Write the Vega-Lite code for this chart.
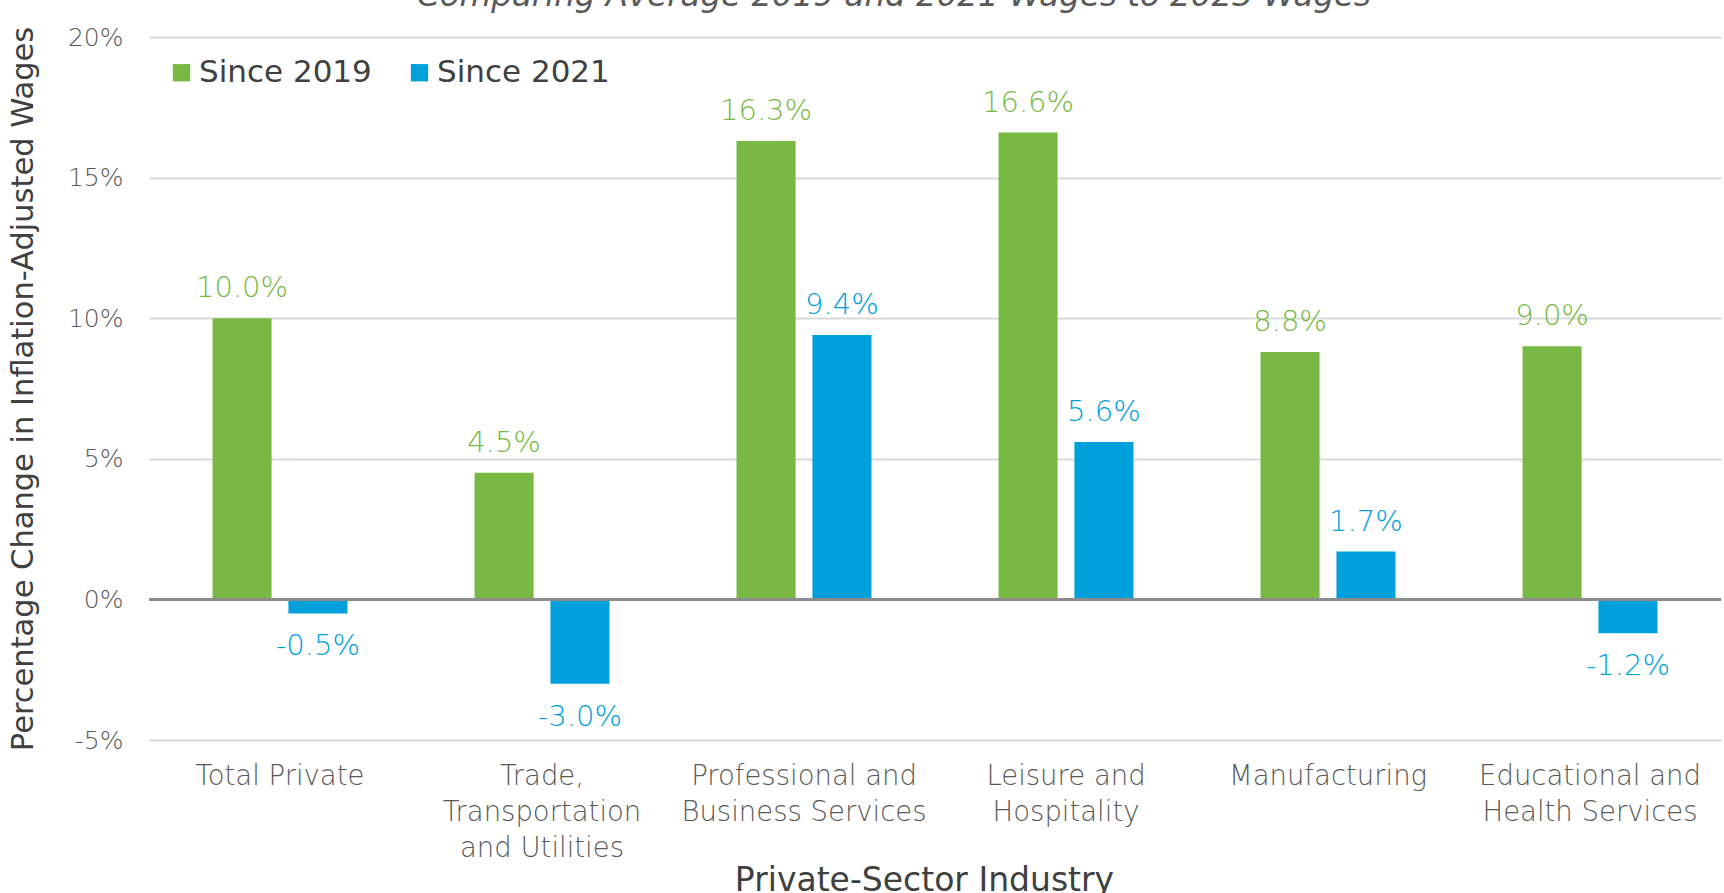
{
  "$schema": "https://vega.github.io/schema/vega-lite/v6.json",
  "autosize": {"type": "none"},
  "width": 1572,
  "height": 703,
  "padding": {"left": 149, "top": 37, "right": 3, "bottom": 153},
  "background": "white",
  "config": {
    "font": "DejaVu Sans",
    "view": {"stroke": null},
    "locale": {
      "number": {"decimal": ".", "thousands": ",", "grouping": [3], "currency": ["$", ""], "minus": "-"}
    }
  },
  "title": {
    "text": "Comparing Average 2019 and 2021 Wages to 2023 Wages",
    "anchor": "middle",
    "baseline": "alphabetic",
    "offset": -13,
    "dx": -41,
    "fontSize": 32.5,
    "fontStyle": "italic",
    "fontWeight": "normal",
    "color": "#595959"
  },
  "data": {
    "values": [
      {"industry": "Total Private", "period": "Since 2019", "value": 0.100},
      {"industry": "Total Private", "period": "Since 2021", "value": -0.005},
      {"industry": "Trade, Transportation and Utilities", "period": "Since 2019", "value": 0.045},
      {"industry": "Trade, Transportation and Utilities", "period": "Since 2021", "value": -0.030},
      {"industry": "Professional and Business Services", "period": "Since 2019", "value": 0.163},
      {"industry": "Professional and Business Services", "period": "Since 2021", "value": 0.094},
      {"industry": "Leisure and Hospitality", "period": "Since 2019", "value": 0.166},
      {"industry": "Leisure and Hospitality", "period": "Since 2021", "value": 0.056},
      {"industry": "Manufacturing", "period": "Since 2019", "value": 0.088},
      {"industry": "Manufacturing", "period": "Since 2021", "value": 0.017},
      {"industry": "Educational and Health Services", "period": "Since 2019", "value": 0.090},
      {"industry": "Educational and Health Services", "period": "Since 2021", "value": -0.012}
    ]
  },
  "encoding": {
    "x": {
      "field": "industry",
      "type": "nominal",
      "sort": null,
      "scale": {"paddingInner": 0.485, "paddingOuter": 0.2425},
      "axis": {
        "title": "Private-Sector Industry",
        "titleFontSize": 33,
        "titleFontWeight": "normal",
        "titleColor": "#404040",
        "titleBaseline": "alphabetic",
        "titleY": 150,
        "titleX": 775,
        "titleAlign": "center",
        "labelAngle": 0,
        "labelFontSize": 27.5,
        "labelColor": "#595959",
        "labelFontWeight": 200,
        "labelBaseline": "top",
        "labelPadding": 22,
        "labelLineHeight": 36,
        "labelLimit": 0,
        "labelExpr": "datum.value == 'Trade, Transportation and Utilities' ? ['Trade,', 'Transportation', 'and Utilities'] : datum.value == 'Professional and Business Services' ? ['Professional and', 'Business Services'] : datum.value == 'Leisure and Hospitality' ? ['Leisure and', 'Hospitality'] : datum.value == 'Educational and Health Services' ? ['Educational and', 'Health Services'] : datum.value",
        "ticks": false,
        "domain": false,
        "grid": false
      }
    },
    "xOffset": {
      "field": "period",
      "type": "nominal",
      "scale": {"paddingInner": 0.222, "paddingOuter": 0}
    },
    "y": {
      "field": "value",
      "type": "quantitative",
      "scale": {"domain": [-0.05, 0.2], "nice": false},
      "axis": {
        "title": "Percentage Change in Inflation-Adjusted Wages",
        "titleFontSize": 30.5,
        "titleFontWeight": "normal",
        "titleColor": "#404040",
        "titleX": -126,
        "titleBaseline": "middle",
        "values": [-0.05, 0, 0.05, 0.1, 0.15, 0.2],
        "format": ".0%",
        "labelFontSize": 25,
        "labelColor": "#595959",
        "labelFontWeight": 200,
        "labelPadding": 26,
        "ticks": false,
        "domain": false,
        "grid": true,
        "gridColor": "#d9d9d9",
        "gridWidth": 2
      }
    }
  },
  "layer": [
    {
      "mark": {"type": "bar"},
      "encoding": {
        "color": {
          "field": "period",
          "type": "nominal",
          "scale": {"domain": ["Since 2019", "Since 2021"], "range": ["#77B943", "#00A0DD"]},
          "legend": {
            "title": null,
            "orient": "none",
            "legendX": 17,
            "legendY": 20,
            "direction": "horizontal",
            "symbolType": "square",
            "symbolSize": 300,
            "symbolStrokeWidth": 0,
            "labelFontSize": 31,
            "labelColor": "#404040",
            "labelOffset": 2,
            "labelLimit": 0,
            "columnPadding": 32,
            "symbolOffset": 0
          }
        }
      }
    },
    {
      "mark": {"type": "rule", "color": "#8c8c8c", "strokeWidth": 2.5},
      "encoding": {"y": {"datum": 0}, "x": null, "xOffset": null}
    },
    {
      "transform": [{"filter": "datum.value >= 0"}],
      "mark": {"type": "text", "dy": -30, "fontSize": 29, "fontWeight": 300, "baseline": "middle"},
      "encoding": {
        "text": {"field": "value", "type": "quantitative", "format": ".1%"},
        "color": {"field": "period", "type": "nominal", "legend": null}
      }
    },
    {
      "transform": [{"filter": "datum.value < 0"}],
      "mark": {"type": "text", "dy": 33, "fontSize": 29, "fontWeight": 300, "baseline": "middle"},
      "encoding": {
        "text": {"field": "value", "type": "quantitative", "format": ".1%"},
        "color": {"field": "period", "type": "nominal", "legend": null}
      }
    }
  ]
}
